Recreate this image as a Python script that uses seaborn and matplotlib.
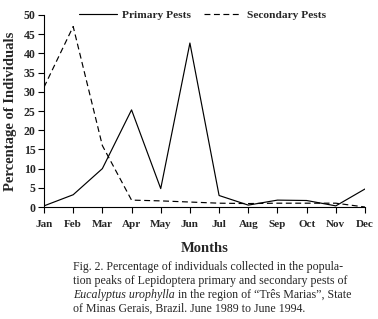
import pandas as pd
import numpy as np
import seaborn as sns
import matplotlib.pyplot as plt

months = ['Jan', 'Feb', 'Mar', 'Apr', 'May', 'Jun', 'Jul', 'Aug', 'Sep', 'Oct', 'Nov', 'Dec']
primary = [0.3, 3.2, 10.0, 25.3, 4.8, 42.7, 3.0, 0.5, 1.8, 1.7, 0.3, 4.7]
secondary = [31.2, 47.0, 16.0, 1.8, 1.6, 1.3, 1.0, 0.9, 1.0, 1.0, 1.0, 0.0]
yticks = [0, 5, 10, 15, 20, 25, 30, 35, 40, 45, 50]

df = pd.DataFrame({
    'Month': months * 2,
    'pos': list(range(12)) * 2,
    'Percentage': primary + secondary,
    'Pest': ['Primary Pests'] * 12 + ['Secondary Pests'] * 12,
})

sns.set_style("ticks")
plt.rcParams['font.family'] = ['Liberation Serif', 'DejaVu Serif']

fig = plt.figure(figsize=(3.78, 3.19), dpi=100)
ax = fig.add_axes([0.1164, 0.351, 0.8492, 0.602])

sns.lineplot(data=df, x='pos', y='Percentage', style='Pest',
             dashes={'Primary Pests': '', 'Secondary Pests': (5, 3)},
             color='black', linewidth=0.85, ax=ax)

ax.set_xlim(0, 11)
ax.set_ylim(0, 50)
ax.set_xticks(range(12))
ax.set_xticklabels(months, fontsize=8, fontweight='bold')
ax.set_yticks(yticks)
ax.set_yticklabels([str(v) for v in yticks], fontsize=8.5, fontweight='bold')
ax.tick_params(direction='out', length=4, width=0.8, color='black', pad=2)
ax.tick_params(axis='x', pad=5)
sns.despine(ax=ax)
for s in ['left', 'bottom']:
    ax.spines[s].set_color('black')
    ax.spines[s].set_linewidth(0.8)

ax.set_xlabel('Months', fontsize=10.5, fontweight='bold', labelpad=10)
ax.set_ylabel('Percentage of Individuals', fontsize=10.5, fontweight='bold', labelpad=5)

leg = ax.legend(loc='center', bbox_to_anchor=(0.494, 1.0), ncol=2, frameon=False,
                handlelength=3.3, columnspacing=1.1, handletextpad=0.5,
                prop={'weight': 'bold', 'size': 8.2, 'family': 'Liberation Serif'})

# caption
cx = 0.193
fs = 8.6
fig.text(cx, 1 - 267 / 319, 'Fig. 2. Percentage of individuals collected in the popula-',
         fontsize=fs, va='center')
fig.text(cx, 1 - 281 / 319, 'tion peaks of Lepidoptera primary and secondary pests of',
         fontsize=fs, va='center')
t_it = fig.text(cx, 1 - 295 / 319, 'Eucalyptus urophylla', fontsize=fs, va='center', style='italic')
fig.canvas.draw()
bb = t_it.get_window_extent().transformed(fig.transFigure.inverted())
fig.text(bb.x1, 1 - 295 / 319, ' in the region of \u201cTr\u00eas Marias\u201d, State',
         fontsize=fs, va='center')
fig.text(cx, 1 - 309 / 319, 'of Minas Gerais, Brazil. June 1989 to June 1994.',
         fontsize=fs, va='center')

fig.savefig('out.png', dpi=100, facecolor='white')
